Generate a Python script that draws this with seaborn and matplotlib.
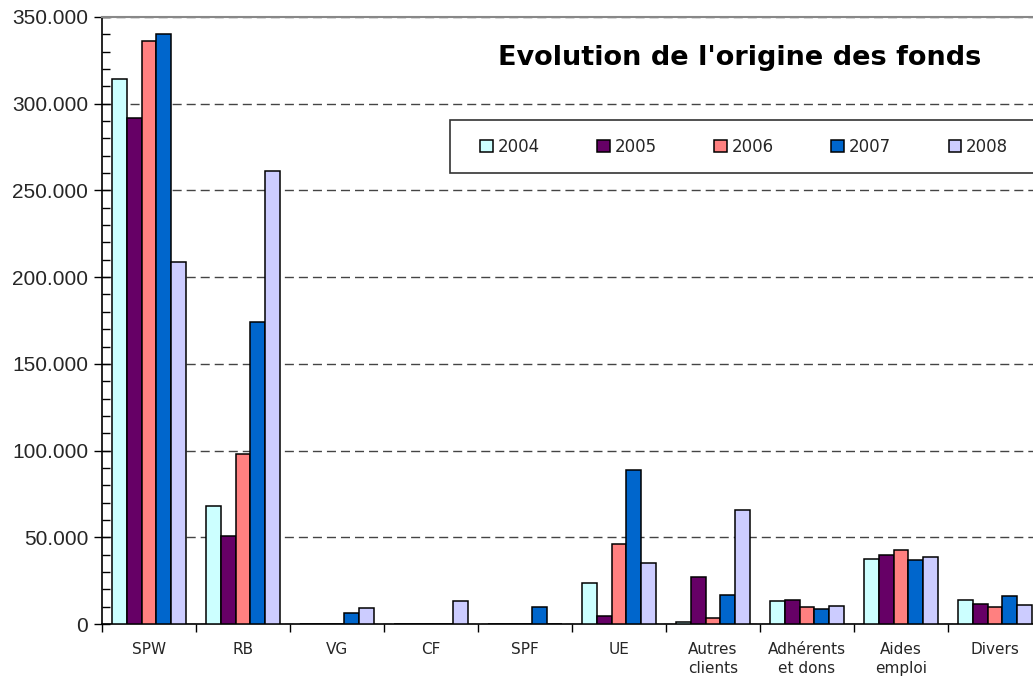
import matplotlib
matplotlib.use("Agg")
import matplotlib.pyplot as plt
import seaborn as sns
import pandas as pd
from matplotlib.ticker import FuncFormatter, MultipleLocator, FixedLocator
from matplotlib.patches import Rectangle

categories = ["SPW", "RB", "VG", "CF", "SPF", "UE", "Autres\nclients",
              "Adhérents\net dons", "Aides\nemploi", "Divers"]
years = ["2004", "2005", "2006", "2007", "2008"]
v2004 = [314000, 68000, 0, 0, 0, 23400, 1200, 13300, 37700, 13800]
v2005 = [291500, 50700, 0, 0, 0, 4800, 26900, 13800, 40000, 11700]
v2006 = [336000, 98000, 0, 0, 0, 46000, 3500, 10000, 42500, 10000]
v2007 = [340000, 174000, 6500, 0, 10000, 89000, 16900, 8700, 36900, 16300]
v2008 = [209000, 261000, 9200, 13000, 0, 35000, 66000, 10200, 38700, 11200]
colors = ["#CCFFFF", "#660066", "#FF8080", "#0066CC", "#CCCCFF"]

series = [v2004, v2005, v2006, v2007, v2008]
rows = []
for y, vals in zip(years, series):
    for c, v in zip(categories, vals):
        rows.append({"cat": c, "year": y, "value": v})
df = pd.DataFrame(rows)

sns.set_style("white")
plt.rcParams["font.family"] = ["DejaVu Sans"]

fig = plt.figure(figsize=(10.33, 6.77), dpi=100)
ax = fig.add_axes([102/1033, 53/677, 940/1033, 607/677])

sns.barplot(data=df, x="cat", y="value", hue="year", order=categories,
            hue_order=years, palette=colors, saturation=1, width=0.78,
            edgecolor="black", linewidth=1.1, ax=ax, zorder=3)

h, l = ax.get_legend_handles_labels()
if ax.get_legend() is not None:
    ax.get_legend().remove()

ax.set_xlim(-0.5, len(categories) - 0.5)
ax.set_ylim(0, 350000)
ax.set_xlabel("")
ax.set_ylabel("")

# y axis
ax.yaxis.set_major_locator(MultipleLocator(50000))
ax.yaxis.set_minor_locator(MultipleLocator(10000))
ax.yaxis.set_major_formatter(FuncFormatter(lambda v, p: f"{int(v):,}".replace(",", ".")))
ax.tick_params(axis="y", which="major", direction="inout", length=12, width=1,
               color="black", labelsize=15, pad=4, left=True)
ax.tick_params(axis="y", which="minor", direction="in", length=6, width=1,
               color="black", left=True)
for t in ax.get_yticklabels():
    t.set_family("Liberation Sans")

# x axis
ax.xaxis.set_minor_locator(FixedLocator([i - 0.5 for i in range(len(categories) + 1)]))
ax.tick_params(axis="x", which="major", length=0, pad=13, labelsize=11)
ax.tick_params(axis="x", which="minor", direction="out", length=6, width=1,
               color="black", bottom=True)
for t in ax.get_xticklabels():
    t.set_linespacing(1.3)
    t.set_va("top")

# grid
ax.set_axisbelow(True)
ax.yaxis.grid(True, which="major", color="#444444", linewidth=1,
              linestyle=(0, (6.5, 3.6)))
ax.xaxis.grid(False)

for s in ["left", "bottom"]:
    ax.spines[s].set_color("black")
    ax.spines[s].set_linewidth(1.2)
ax.spines["top"].set_color("#888888")
ax.spines["top"].set_linewidth(1.5)
ax.spines["right"].set_visible(False)

# title
fig.text(740/1033, 1 - 58/677, "Evolution de l'origine des fonds",
         ha="center", va="center", fontsize=19.5, fontweight="bold",
         color="black")

# legend box
fig.patches.append(Rectangle((450/1033, 1 - 173/677), 600/1033, 53/677,
                             transform=fig.transFigure, fill=True,
                             facecolor="white", edgecolor="#333333",
                             linewidth=1.2, zorder=5))
leg = fig.legend(h, l, loc="center left",
                 bbox_to_anchor=(480/1033, 1 - 147/677), ncol=5,
                 frameon=False, fontsize=12,
                 handlelength=0.75, handleheight=0.75, handletextpad=0.3,
                 columnspacing=3.45, borderpad=0, borderaxespad=0)
leg.set_zorder(6)

fig.savefig("out.png", dpi=100)
